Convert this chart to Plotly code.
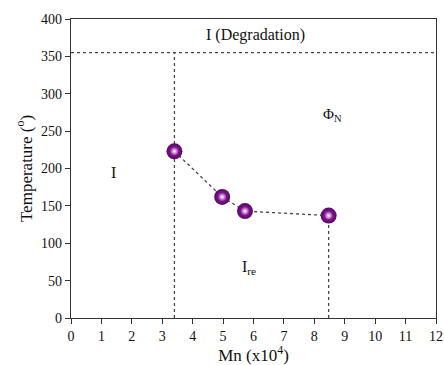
import plotly.graph_objects as go

mn = [3.4, 4.97, 5.72, 8.47]
temp = [223, 162, 143, 137]
degradation_t = 355
x_ticks = list(range(0, 13))
y_ticks = list(range(0, 401, 50))

font = "Liberation Serif, Times New Roman, serif"
line_col = "#333333"
dot_col = "#444444"

fig = go.Figure()

fig.add_trace(go.Scatter(x=[0, 12], y=[degradation_t, degradation_t], mode="lines",
                         line=dict(color=dot_col, width=1.3, dash="dot"), hoverinfo="skip"))
fig.add_trace(go.Scatter(x=[mn[0], mn[0]], y=[0, degradation_t], mode="lines",
                         line=dict(color=dot_col, width=1.3, dash="dot"), hoverinfo="skip"))
fig.add_trace(go.Scatter(x=[mn[-1], mn[-1]], y=[0, temp[-1]], mode="lines",
                         line=dict(color=dot_col, width=1.3, dash="dot"), hoverinfo="skip"))
# sphere body (marker.color = edge, gradient.color = centre)
fig.add_trace(go.Scatter(x=mn, y=temp, mode="lines+markers",
                         line=dict(color=dot_col, width=1.3, dash="dot"),
                         marker=dict(size=16, color="#5a0666",
                                     gradient=dict(type="radial", color="#9a2aa8"),
                                     line=dict(width=0))))
# highlight
fig.add_trace(go.Scatter(x=mn, y=temp, mode="markers",
                         marker=dict(size=8, color="#9a2aa8",
                                     gradient=dict(type="radial", color="#ffffff"),
                                     line=dict(width=0)), hoverinfo="skip"))

annots = [
    dict(x=6.05, y=378, text="I (Degradation)", size=16),
    dict(x=8.6, y=272, text="Φ<sub>N</sub>", size=15),
    dict(x=1.4, y=194, text="I", size=16),
    dict(x=5.85, y=67, text="I<sub>re</sub>", size=16),
]
for a in annots:
    fig.add_annotation(x=a["x"], y=a["y"], text=a["text"], showarrow=False,
                       font=dict(family=font, size=a["size"], color="#111"))

axis_common = dict(showgrid=False, zeroline=False, showline=True, linecolor=line_col,
                   linewidth=1.3, mirror=True, ticks="outside", ticklen=5,
                   tickcolor=line_col, tickwidth=1.2, automargin=False,
                   tickfont=dict(family=font, size=14, color="#111"))

fig.update_xaxes(range=[0, 12], tickvals=x_ticks,
                 title=dict(text="Mn (x10<sup>4</sup>)", font=dict(family=font, size=17, color="#111"),
                            standoff=2),
                 **axis_common)
fig.update_yaxes(range=[0, 400], tickvals=y_ticks,
                 title=dict(text="Temperature (<sup>o</sup>)", font=dict(family=font, size=17, color="#111"),
                            standoff=4),
                 **axis_common)

fig.update_layout(width=444, height=365, margin=dict(l=71, r=8, t=19, b=47),
                  plot_bgcolor="white", paper_bgcolor="white", showlegend=False)

fig.write_html("out.html", config={"displayModeBar": False},
               post_script="document.body.style.margin='0';document.body.style.overflow='hidden';")
